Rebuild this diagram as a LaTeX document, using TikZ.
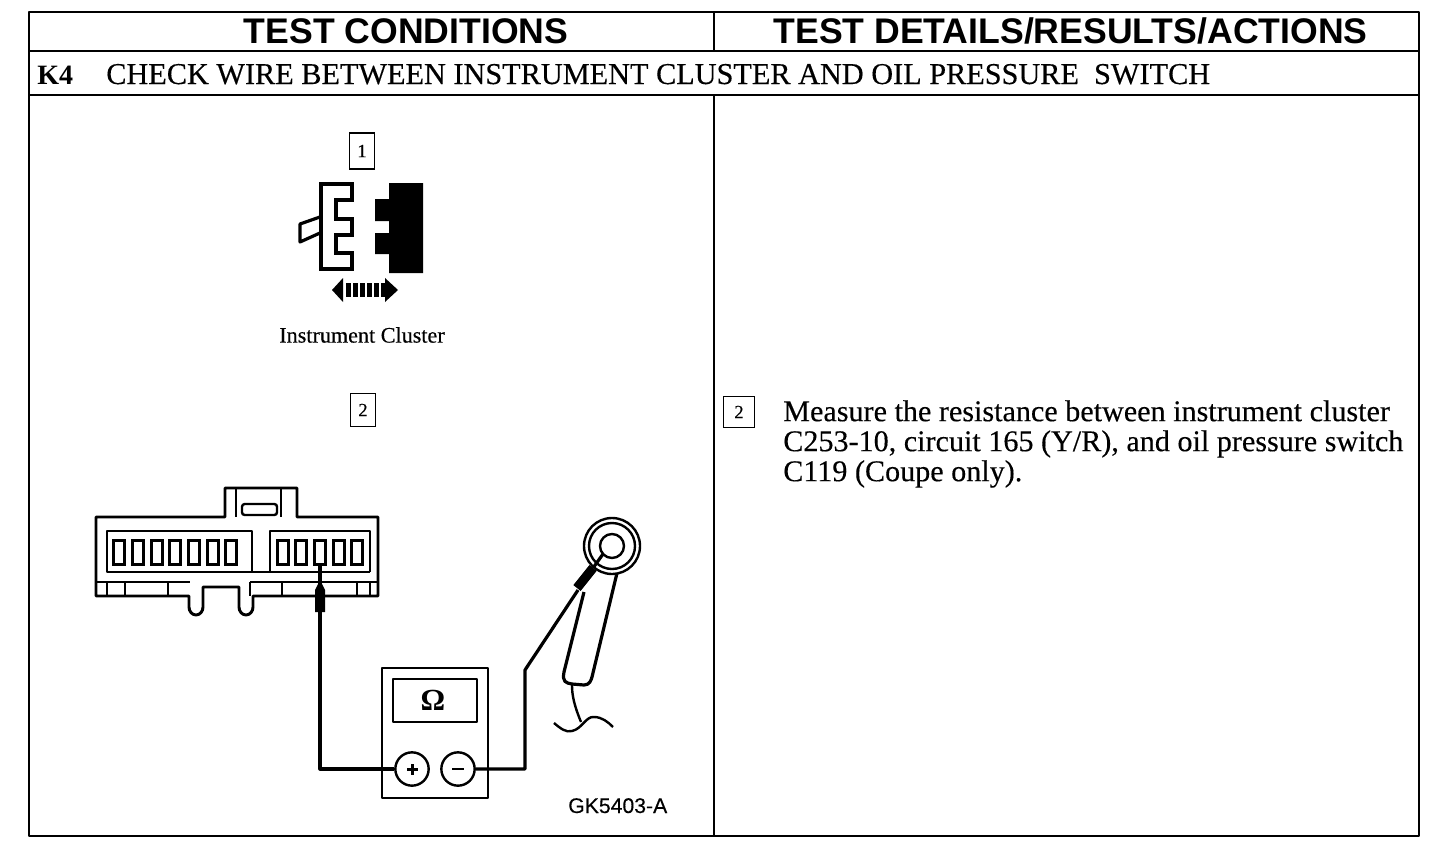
\documentclass[tikz,border=0pt]{standalone}
\usepackage{fontspec}
\setmainfont{Liberation Serif}
\newfontfamily\hfont{Liberation Sans}
\newfontfamily\sfont[FakeBold=0.3]{Liberation Serif}
\newfontfamily\gfont[FakeBold=0.3]{Liberation Sans}
\newcommand{\fs}[2]{\fontsize{#1pt}{#2pt}\selectfont}
\tikzset{
  thk/.style={line width=2.2pt,line join=round},
  med/.style={line width=1.8pt,line join=round},
  hdr/.style={inner sep=0pt,font=\hfont\bfseries\fs{26.7}{28}},
  numbox/.style={draw,line width=1.2pt,minimum width=18pt,minimum height=24pt,inner sep=0pt,font=\sfont\fs{14}{16}},
  contact/.style={draw,line width=1.8pt,minimum width=8.2pt,minimum height=18pt,inner sep=0pt},
  term/.style={circle,draw,line width=1.8pt,minimum size=25pt,inner sep=0pt},
  wire/.style={line width=2.4pt,line join=round}
}
\begin{document}
\begin{tikzpicture}[x=0.75pt,y=-0.75pt]
\useasboundingbox (0,0) rectangle (1456,846);
% table
\draw[thk] (29,12) rectangle (1419,836);
\draw[thk] (29,51) -- (1419,51);
\draw[thk] (29,95) -- (1419,95);
\draw[thk] (714,12) -- (714,51);
\draw[thk] (714,95) -- (714,836);
\node[hdr] (h1) at (406,31) {TEST CONDITIONS};
\node[hdr] (h2) at (1070.5,31) {TEST DETAILS/RESULTS/ACTIONS};
\node[inner sep=0pt,anchor=base west,font=\bfseries\fs{21}{24}] (k4) at (37,84) {K4};
\node[inner sep=0pt,anchor=base west,font=\sfont\fs{22.7}{24}] (title) at (106,84) {CHECK WIRE BETWEEN INSTRUMENT CLUSTER AND OIL PRESSURE\ \ SWITCH};
% step 1
\node[numbox,minimum width=19pt,minimum height=27pt] (n1) at (362,151) {1};
\draw[line width=2.6pt,line join=miter] (321,184) -- (352,184) -- (352,200) -- (336,200) -- (336,219) -- (352,219) -- (352,235) -- (336,235) -- (336,253) -- (352,253) -- (352,269) -- (321,269) -- cycle;
\draw[line width=2.4pt,line join=round] (320,217) -- (300,224) -- (300,242) -- (320,233);
\fill (389,183) -- (423,183) -- (423,273) -- (389,273) -- (389,254) -- (375,254) -- (375,233) -- (389,233) -- (389,221) -- (375,221) -- (375,199) -- (389,199) -- cycle;
\fill (332,290) -- (343,278) -- (343,302) -- cycle;
\fill (385,278) -- (398,290) -- (385,302) -- cycle;
\foreach \a in {346,353,360,367,374,381} \fill (\a,283) rectangle +(5,14);
\node[inner sep=0pt,font=\sfont\fs{16.6}{18}] (ic) at (362,335) {Instrument Cluster};
% step 2
\node[numbox,minimum width=19pt,minimum height=25pt] (n2) at (363,410) {2};
% connector
\draw[thk] (96,517) -- (225,517) -- (225,488) -- (297,488) -- (297,517) -- (378,517) -- (378,596) -- (253,596) -- (253,607) arc[start angle=0,end angle=180,x radius=7,y radius=8] -- (239,587) -- (203,587) -- (203,607) arc[start angle=0,end angle=180,x radius=7,y radius=8] -- (189,596) -- (96,596) -- cycle;
\draw[med] (236,488) -- (236,517) (281,488) -- (281,517);
\draw[med,rounded corners=2pt] (242,504) rectangle (277,515);
\draw[med] (107,531) rectangle (252,572);
\draw[med] (270,572) -- (270,531) -- (370,531) -- (370,572);
\draw[med] (107,572) -- (370,572);
\draw[thk] (96,582) -- (190,582) (250,582) -- (378,582);
\foreach \a in {107,125,168,250,282,357,370} \draw[thk] (\a,582) -- (\a,596);
\foreach \i/\a in {1/119,2/138,3/157,4/175,5/194,6/213,7/231} \node[contact] (l\i) at (\a,552.5) {};
\foreach \i/\a in {1/283,2/301,3/320,4/339,5/357} \node[contact] (r\i) at (\a,552.5) {};
% meter
\draw[thk] (382,668) rectangle (488,798);
\draw[med] (393,679) rectangle (477,722);
\node[inner sep=0pt,font=\bfseries\fs{23}{24}] (ohm) at (433,700) {Ω};
\node[term] (plus) at (412,769) {};
\node[term] (minus) at (458,769) {};
\fill (plus.center) ++(-5.5,-1.5) rectangle ++(11,3);
\fill (plus.center) ++(-1.5,-5.5) rectangle ++(3,11);
\fill (minus.center) ++(-6,-1.3) rectangle ++(12,2.6);
% wires
\draw[wire] (plus.west) -- (320,769) -- (r3.south);
\fill (319,582) -- (321,582) -- (325,590) -- (325,612) -- (315,612) -- (315,590) -- cycle;
\coordinate (ringc) at (612,546);
\draw[wire] (minus.east) -- (525,769) -- (525,670) -- (578,590);
\draw[line width=7pt] (577,588) -- (593,568);
\draw[wire] (593,568) -- (603,554);
% probe
\draw[med] (ringc) circle (28);
\draw[med] (ringc) circle (23);
\draw[med] (ringc) circle (12);
\draw[wire] (584,592) -- (564,672) .. controls (562,682) and (566,683) .. (572,684) -- (584,685) .. controls (590,685) and (591,680) .. (592,677) -- (617,573);
\draw[med] (572,685) .. controls (572,695) and (574,705) .. (581,722);
\draw[med] (554,723) .. controls (560,728) and (566,733) .. (572,731) .. controls (582,729) and (586,716) .. (594,717) .. controls (602,717) and (608,722) .. (613,727);
\node[inner sep=0pt,anchor=base west,font=\gfont\fs{15.9}{17}] (fig) at (568,813) {GK5403-A};
% right column
\node[numbox,minimum width=23pt,minimum height=23pt] (n3) at (739,412) {2};
\node[inner sep=0pt,anchor=north west,align=left,font=\sfont\fs{22.6}{22.5}] (txt) at (783,400) {Measure the resistance between instrument cluster\\C253-10, circuit 165 (Y/R), and oil pressure switch\\C119 (Coupe only).};
\end{tikzpicture}
\end{document}
